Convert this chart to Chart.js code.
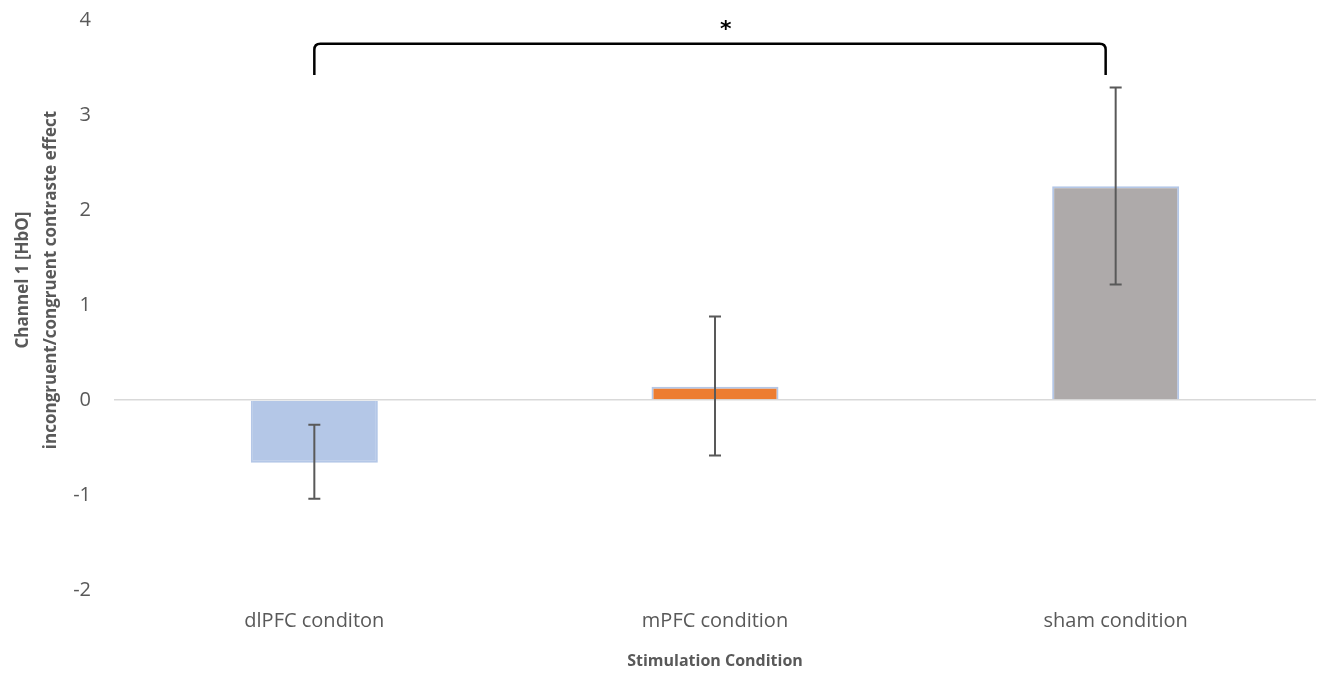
<!DOCTYPE html>
<html>
<head>
<meta charset="utf-8">
<script src="https://cdn.jsdelivr.net/npm/chart.js"></script>
<style>
  html, body { margin: 0; padding: 0; background: #fff; }
  #wrap { width: 1320px; height: 673px; position: relative; }
</style>
</head>
<body>
<div id="wrap"><canvas id="effectChart"></canvas></div>
<script>
// chart data
const conditions = ['dlPFC conditon', 'mPFC condition', 'sham condition'];
const meanEffect = [-0.66, 0.14, 2.25];
const errLow = [-1.04, -0.585, 1.215];
const errHigh = [-0.26, 0.88, 3.29];
const barColors = ['#B4C7E7', '#ED7D31', '#AEAAAA'];
const yTicks = [-2, -1, 0, 1, 2, 3, 4];
const yTitleLines = ['Channel 1 [HbO]', 'incongruent/congruent contraste effect'];

// significance bracket between dlPFC and sham
const bracket = { from: 0, to: 1.975, top: 3.75, leg: 3.42, starX: 1.027, starY: 3.89, label: '*' };

const textGrey = '#595959';
const fontFamily = '"Open Sans", Lato, sans-serif';

// Error bars drawn from the low/high arrays
const errorBarPlugin = {
    id: 'errorBars',
    afterDatasetsDraw(chart) {
        const { ctx, scales: { x, y } } = chart;
        ctx.save();
        ctx.strokeStyle = textGrey;
        ctx.lineWidth = 2;
        conditions.forEach((_, i) => {
            const cx = x.getPixelForValue(i);
            const yLo = y.getPixelForValue(errLow[i]);
            const yHi = y.getPixelForValue(errHigh[i]);
            ctx.beginPath();
            ctx.moveTo(cx, yLo);
            ctx.lineTo(cx, yHi);
            ctx.moveTo(cx - 6, yLo);
            ctx.lineTo(cx + 6, yLo);
            ctx.moveTo(cx - 6, yHi);
            ctx.lineTo(cx + 6, yHi);
            ctx.stroke();
        });
        ctx.restore();
    }
};

// Bracket with asterisk
const bracketPlugin = {
    id: 'sigBracket',
    afterDraw(chart) {
        const { ctx, scales: { x, y } } = chart;
        const x0 = x.getPixelForValue(bracket.from);
        const x1 = x.getPixelForValue(bracket.to);
        const yt = y.getPixelForValue(bracket.top);
        const yl = y.getPixelForValue(bracket.leg);
        const r = 6;
        ctx.save();
        ctx.strokeStyle = '#000';
        ctx.lineWidth = 2.5;
        ctx.beginPath();
        ctx.moveTo(x0, yl);
        ctx.lineTo(x0, yt + r);
        ctx.quadraticCurveTo(x0, yt, x0 + r, yt);
        ctx.lineTo(x1 - r, yt);
        ctx.quadraticCurveTo(x1, yt, x1, yt + r);
        ctx.lineTo(x1, yl);
        ctx.stroke();
        ctx.fillStyle = '#000';
        ctx.font = 'bold 22px "DejaVu Sans", sans-serif';
        ctx.textAlign = 'center';
        ctx.textBaseline = 'middle';
        ctx.fillText(bracket.label, x.getPixelForValue(bracket.starX), y.getPixelForValue(bracket.starY));
        ctx.restore();
    }
};

// Y axis title, sits a bit above the middle of the plot like the Excel original
const yTitlePlugin = {
    id: 'yTitle',
    afterDraw(chart) {
        const { ctx, chartArea } = chart;
        const midY = (chartArea.top + chartArea.bottom) / 2 - 25;
        ctx.save();
        ctx.fillStyle = textGrey;
        ctx.font = 'bold 17px ' + fontFamily;
        ctx.textAlign = 'center';
        ctx.textBaseline = 'middle';
        yTitleLines.forEach((line, i) => {
            ctx.save();
            ctx.translate(23 + i * 28, midY);
            ctx.rotate(-Math.PI / 2);
            ctx.fillText(line, 0, 0);
            ctx.restore();
        });
        ctx.restore();
    }
};

const chart = new Chart(document.getElementById('effectChart'), {
    type: 'bar',
    data: {
        labels: conditions,
        datasets: [{
            data: meanEffect,
            backgroundColor: barColors,
            borderColor: '#B4C7E7',
            borderWidth: 2,
            categoryPercentage: 1,
            barPercentage: 0.317
        }]
    },
    options: {
        responsive: true,
        maintainAspectRatio: false,
        animation: false,
        layout: { padding: { top: 20, right: 4, left: 0, bottom: 0 } },
        plugins: {
            legend: { display: false },
            tooltip: { enabled: false }
        },
        scales: {
            x: {
                grid: { display: false, drawTicks: false },
                border: { display: false },
                ticks: {
                    color: textGrey,
                    padding: 19,
                    font: { family: fontFamily, size: 20 }
                },
                title: {
                    display: true,
                    text: 'Stimulation Condition',
                    color: textGrey,
                    padding: { top: 0, bottom: 2 },
                    font: { family: fontFamily, size: 16, weight: 'bold' }
                },
                afterFit: scale => { scale.height = 83; }
            },
            y: {
                min: yTicks[0],
                max: yTicks[yTicks.length - 1],
                afterBuildTicks: scale => { scale.ticks = yTicks.map(v => ({ value: v })); },
                grid: {
                    drawTicks: false,
                    lineWidth: 1.5,
                    color: c => (c.tick && c.tick.value === 0 ? '#D9D9D9' : 'rgba(0,0,0,0)')
                },
                border: { display: false },
                ticks: {
                    color: textGrey,
                    padding: 23,
                    font: { family: fontFamily, size: 20 }
                },
                afterFit: scale => {
                    scale.width = 114;
                    scale.paddingTop = 0;
                    scale.paddingBottom = 0;
                }
            }
        }
    },
    plugins: [errorBarPlugin, bracketPlugin, yTitlePlugin]
});
</script>
</body>
</html>
